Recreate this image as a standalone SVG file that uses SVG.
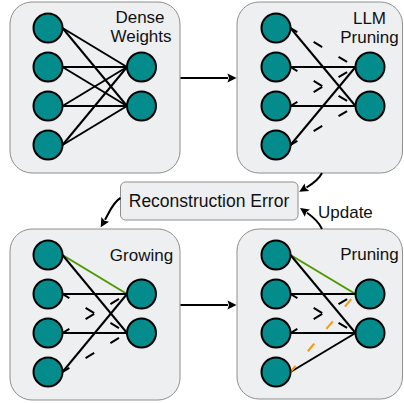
<svg xmlns="http://www.w3.org/2000/svg" width="404" height="403" viewBox="0 0 404 403">
<style>
.box{fill:#eeeff1;stroke:#8e8e8e;stroke-width:1}
.n{fill:#048b8b;stroke:#000;stroke-width:2}
.e{stroke:#000;stroke-width:2;fill:none}
.d{stroke:#000;stroke-width:2;fill:none;stroke-dasharray:10 19;stroke-dashoffset:2}
.g{stroke:#4d9900;stroke-width:2;fill:none}
.o{stroke:#ff9900;stroke-width:2;fill:none;stroke-dasharray:10 19;stroke-dashoffset:2}
.t{font-family:"Liberation Sans",Arial,Helvetica,sans-serif;font-size:17px;fill:#111;text-anchor:middle}
.c{stroke:#000;stroke-width:2;fill:none}
</style>
<defs>
<marker id="ah" markerUnits="userSpaceOnUse" markerWidth="10" markerHeight="10" refX="0.5" refY="4.5" orient="auto" overflow="visible">
<path d="M0,0 L9,4.5 L0,9 L1.5,4.5 z" fill="#000"/>
</marker>
</defs>

<g id="panel-dense">
<rect class="box" x="10" y="2" width="170" height="171" rx="22"/>
<g id="dense-edges">
<line class="e" x1="62.5" y1="28" x2="127" y2="67"/>
<line class="e" x1="62.5" y1="28" x2="127" y2="106"/>
<line class="e" x1="62.5" y1="67" x2="127" y2="67"/>
<line class="e" x1="62.5" y1="67" x2="127" y2="106"/>
<line class="e" x1="62.5" y1="106" x2="127" y2="67"/>
<line class="e" x1="62.5" y1="106" x2="127" y2="106"/>
<line class="e" x1="62.5" y1="145" x2="127" y2="67"/>
<line class="e" x1="62.5" y1="145" x2="127" y2="106"/>
</g>
<g id="dense-nodes">
<circle class="n" cx="48" cy="28" r="14.5"/>
<circle class="n" cx="48" cy="67" r="14.5"/>
<circle class="n" cx="48" cy="106" r="14.5"/>
<circle class="n" cx="48" cy="145" r="14.5"/>
<circle class="n" cx="141.5" cy="67" r="14.5"/>
<circle class="n" cx="141.5" cy="106" r="14.5"/>
</g>
<text class="t" x="140" y="23">Dense</text>
<text class="t" x="141" y="42">Weights</text>
</g>

<g id="panel-llm-pruning">
<rect class="box" x="237" y="2" width="165.5" height="171" rx="22"/>
<g id="llm-edges">
<line class="e" x1="290.5" y1="28" x2="355.5" y2="106"/>
<line class="e" x1="290.5" y1="67" x2="355.5" y2="67"/>
<line class="e" x1="290.5" y1="106" x2="355.5" y2="106"/>
<line class="e" x1="290.5" y1="145" x2="355.5" y2="67"/>
<line class="d" x1="290.5" y1="28" x2="355.5" y2="67"/>
<line class="d" x1="290.5" y1="67" x2="355.5" y2="106"/>
<line class="d" x1="290.5" y1="106" x2="355.5" y2="67"/>
<line class="d" x1="290.5" y1="145" x2="355.5" y2="106"/>
</g>
<g id="llm-nodes">
<circle class="n" cx="276" cy="28" r="14.5"/>
<circle class="n" cx="276" cy="67" r="14.5"/>
<circle class="n" cx="276" cy="106" r="14.5"/>
<circle class="n" cx="276" cy="145" r="14.5"/>
<circle class="n" cx="370" cy="67" r="14.5"/>
<circle class="n" cx="370" cy="106" r="14.5"/>
</g>
<text class="t" x="369.5" y="24">LLM</text>
<text class="t" x="369.5" y="43">Pruning</text>
</g>

<g id="recon-error">
<rect class="box" x="120.5" y="182" width="177.5" height="38" rx="5"/>
<text class="t" x="209" y="207" style="font-size:17.5px">Reconstruction Error</text>
</g>

<g id="panel-growing">
<rect class="box" x="10" y="229" width="170" height="171" rx="22"/>
<g id="grow-edges">
<line class="g" x1="62.5" y1="255" x2="127" y2="294"/>
<line class="e" x1="62.5" y1="255" x2="127" y2="333"/>
<line class="e" x1="62.5" y1="294" x2="127" y2="294"/>
<line class="e" x1="62.5" y1="333" x2="127" y2="333"/>
<line class="e" x1="62.5" y1="372" x2="127" y2="294"/>
<line class="d" x1="62.5" y1="294" x2="127" y2="333"/>
<line class="d" x1="62.5" y1="333" x2="127" y2="294"/>
<line class="d" x1="62.5" y1="372" x2="127" y2="333"/>
</g>
<g id="grow-nodes">
<circle class="n" cx="48" cy="255" r="14.5"/>
<circle class="n" cx="48" cy="294" r="14.5"/>
<circle class="n" cx="48" cy="333" r="14.5"/>
<circle class="n" cx="48" cy="372" r="14.5"/>
<circle class="n" cx="141.5" cy="294" r="14.5"/>
<circle class="n" cx="141.5" cy="333" r="14.5"/>
</g>
<text class="t" x="141.5" y="261">Growing</text>
</g>

<g id="panel-pruning">
<rect class="box" x="237" y="229" width="165.5" height="170" rx="22"/>
<g id="prune-edges">
<line class="g" x1="290.5" y1="255" x2="355.5" y2="294"/>
<line class="e" x1="290.5" y1="255" x2="355.5" y2="333"/>
<line class="e" x1="290.5" y1="294" x2="355.5" y2="294"/>
<line class="e" x1="290.5" y1="333" x2="355.5" y2="333"/>
<line class="e" x1="290.5" y1="372" x2="355.5" y2="333"/>
<line class="d" x1="290.5" y1="294" x2="355.5" y2="333"/>
<line class="d" x1="290.5" y1="333" x2="355.5" y2="294"/>
<line class="o" x1="290.5" y1="372" x2="355.5" y2="294"/>
</g>
<g id="prune-nodes">
<circle class="n" cx="276" cy="255" r="14.5"/>
<circle class="n" cx="276" cy="294" r="14.5"/>
<circle class="n" cx="276" cy="333" r="14.5"/>
<circle class="n" cx="276" cy="372" r="14.5"/>
<circle class="n" cx="370" cy="294" r="14.5"/>
<circle class="n" cx="370" cy="333" r="14.5"/>
</g>
<text class="t" x="369.5" y="260">Pruning</text>
</g>

<g id="connectors">
<path class="c" d="M180.5,78 L228,78" marker-end="url(#ah)"/>
<path class="c" d="M180.5,305 L228,305" marker-end="url(#ah)"/>
<path class="c" d="M322,173 C319,179 314,183 306.5,187.5" marker-end="url(#ah)"/>
<path class="c" d="M120.5,198 C113,202 109,213 105,219.8" marker-end="url(#ah)"/>
<path class="c" d="M322,229 C319,222 313,217 307,212.8" marker-end="url(#ah)"/>
<text class="t" x="318" y="218" style="text-anchor:start">Update</text>
</g>
</svg>
